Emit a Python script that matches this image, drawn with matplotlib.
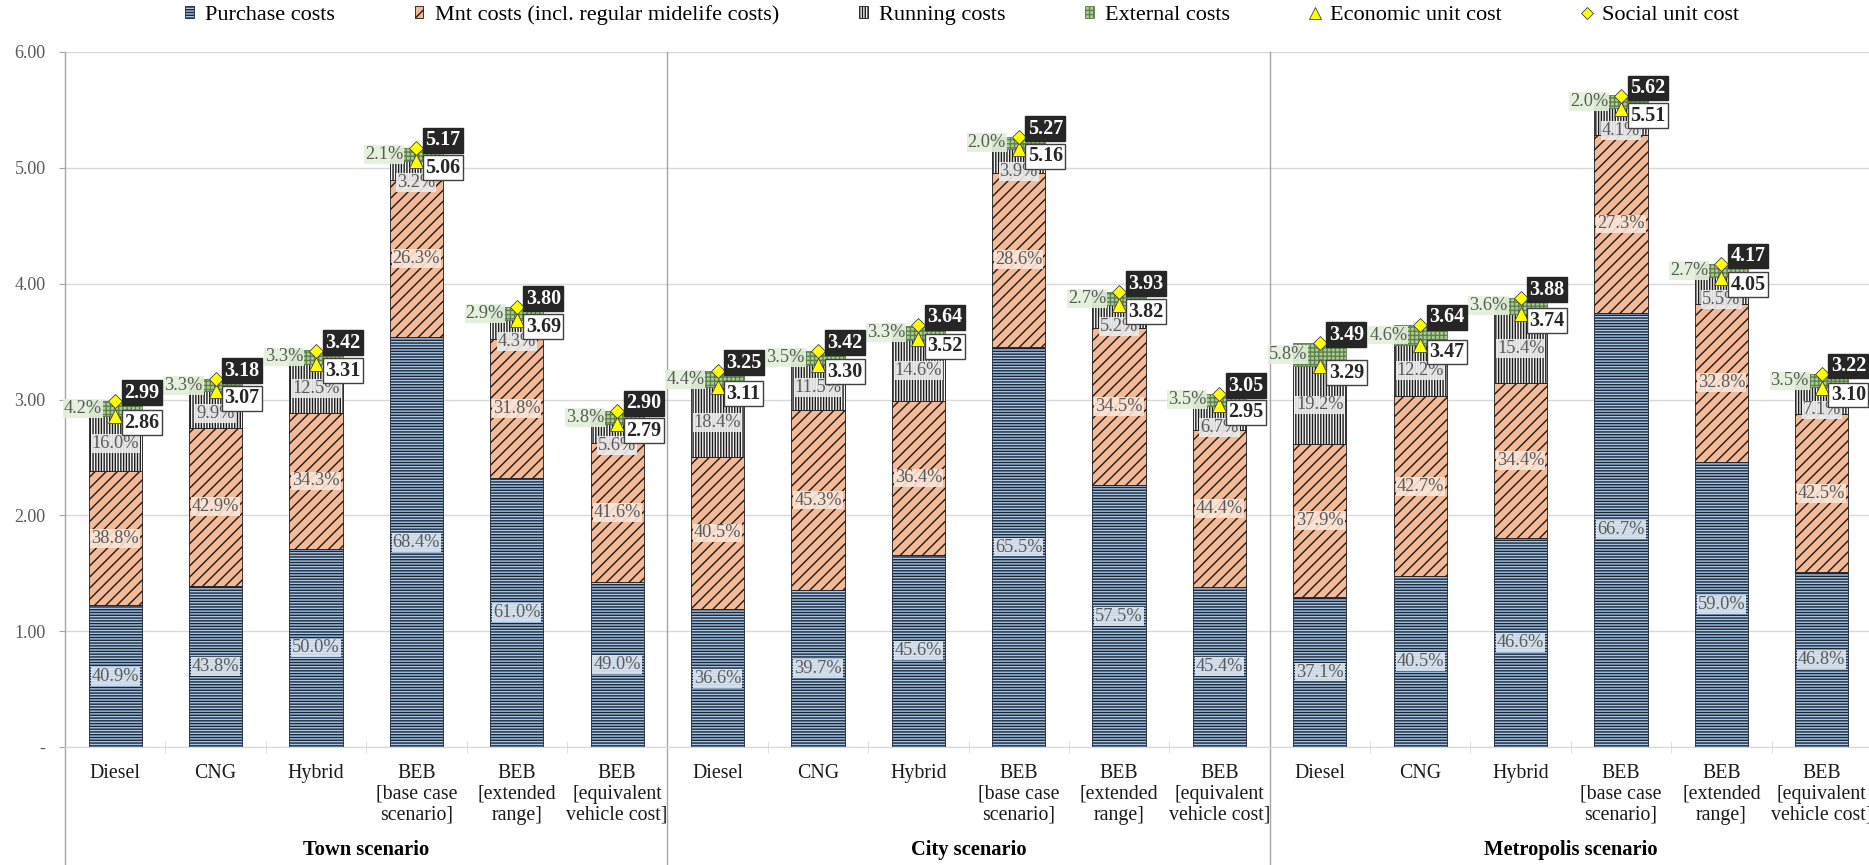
import numpy as np
import matplotlib.pyplot as plt
import matplotlib.transforms as mtransforms
from matplotlib.patches import Patch
from matplotlib.lines import Line2D

plt.rcParams['font.family'] = ['Liberation Serif', 'DejaVu Serif']
plt.rcParams['hatch.linewidth'] = 1.0

scenarios = ['Town scenario', 'City scenario', 'Metropolis scenario']
vehicles = ['Diesel', 'CNG', 'Hybrid',
            'BEB\n[base case\nscenario]', 'BEB\n[extended\nrange]',
            'BEB\n[equivalent\nvehicle cost]']

# shares of the social unit cost in %, one row per scenario
purchase_pct = [[40.9, 43.8, 50.0, 68.4, 61.0, 49.0],
                [36.6, 39.7, 45.6, 65.5, 57.5, 45.4],
                [37.1, 40.5, 46.6, 66.7, 59.0, 46.8]]
mnt_pct = [[38.8, 42.9, 34.3, 26.3, 31.8, 41.6],
           [40.5, 45.3, 36.4, 28.6, 34.5, 44.4],
           [37.9, 42.7, 34.4, 27.3, 32.8, 42.5]]
running_pct = [[16.0, 9.9, 12.5, 3.2, 4.3, 5.6],
               [18.4, 11.5, 14.6, 3.9, 5.2, 6.7],
               [19.2, 12.2, 15.4, 4.1, 5.5, 7.1]]
external_pct = [[4.2, 3.3, 3.3, 2.1, 2.9, 3.8],
                [4.4, 3.5, 3.3, 2.0, 2.7, 3.5],
                [5.8, 4.6, 3.6, 2.0, 2.7, 3.5]]
economic_cost = [[2.86, 3.07, 3.31, 5.06, 3.69, 2.79],
                 [3.11, 3.30, 3.52, 5.16, 3.82, 2.95],
                 [3.29, 3.47, 3.74, 5.51, 4.05, 3.10]]
social_cost = [[2.99, 3.18, 3.42, 5.17, 3.80, 2.90],
               [3.25, 3.42, 3.64, 5.27, 3.93, 3.05],
               [3.49, 3.64, 3.88, 5.62, 4.17, 3.22]]

soc = np.array(social_cost).ravel()
eco = np.array(economic_cost).ravel()
shares = [np.array(p).ravel() for p in (purchase_pct, mnt_pct, running_pct, external_pct)]
heights = [s / 100 * soc for s in shares]
x = np.arange(len(soc))

names = ['Purchase costs', 'Mnt costs (incl. regular midelife costs)',
         'Running costs', 'External costs']
faces = ['#a6c6ea', '#f4b996', '#f4f4f4', '#a9d08e']
edges = ['#1c2633', '#1a1a1a', '#1a1a1a', '#5f7f50']
hatches = ['------', '///', '||||||', '++++']
label_bg = ['#dde8f4', '#fce6d8', '#ededed', '#e3f0da']
grey = '#595959'

fig = plt.figure(figsize=(18.69, 8.65), dpi=100)
ax = fig.add_axes([65 / 1869, 118 / 865, 1807 / 1869, 695 / 865])

bottom = np.zeros_like(soc)
for h, fc, ec, ht in zip(heights, faces, edges, hatches):
    ax.bar(x, h, 0.53, bottom=bottom, color=fc, edgecolor=ec, hatch=ht,
           linewidth=0.6, zorder=2)
    bottom = bottom + h

# percentage labels
base = np.zeros_like(soc)
for k, (h, s) in enumerate(zip(heights, shares)):
    mid = base + h / 2
    for i in range(len(x)):
        txt = f'{s[i]:.1f}%'
        box = dict(boxstyle='square,pad=0.05', fc=label_bg[k], ec='none', alpha=0.9)
        if k == 3:
            ax.annotate(txt, (x[i], mid[i]), xytext=(-13, 0), textcoords='offset pixels',
                        ha='right', va='center', fontsize=13.2, color=grey, bbox=box, zorder=4)
        else:
            y = mid[i] if k < 2 else min(mid[i], eco[i] - 0.19)
            ax.text(x[i], y, txt, ha='center', va='center', fontsize=13.2,
                    color=grey, bbox=box, zorder=4)
    base = base + h

ax.plot(x, eco, ls='none', marker='^', ms=10, mfc='#ffff00', mec='#404040', mew=0.6, zorder=6)
ax.plot(x, soc, ls='none', marker='D', ms=7.5, mfc='#ffff00', mec='#404040', mew=0.6, zorder=6)

for i in range(len(x)):
    ax.annotate(f'{soc[i]:.2f}', (x[i], soc[i]), xytext=(9, 8), textcoords='offset pixels',
                ha='left', va='center', fontsize=14.5, fontweight='bold', color='white',
                bbox=dict(boxstyle='square,pad=0.12', fc='#262626', ec='#262626'), zorder=8)
    ax.annotate(f'{eco[i]:.2f}', (x[i], eco[i]), xytext=(9, -7), textcoords='offset pixels',
                ha='left', va='center', fontsize=14.5, fontweight='bold', color='#262626',
                bbox=dict(boxstyle='square,pad=0.12', fc='white', ec='#404040', lw=1), zorder=7)

ax.set_xlim(-0.5, len(x) - 0.5)
ax.set_ylim(0, 6)
ax.set_yticks(range(7))
ax.set_yticklabels(['-'] + [f'{v:.2f}' for v in range(1, 7)])
ax.tick_params(axis='y', length=4, color='#a6a6a6', labelcolor=grey, labelsize=13, pad=10)
ax.set_xticks(x)
ax.set_xticklabels(vehicles * 3, fontsize=14.3, linespacing=1.15, color='#1a1a1a')
ax.tick_params(axis='x', length=0, pad=12)
ax.set_xticks(np.arange(-0.5, len(x), 1), minor=True)
ax.tick_params(axis='x', which='minor', length=8, direction='inout', color='#d9d9d9')
ax.yaxis.grid(True, color='#d9d9d9', lw=1)
ax.set_axisbelow(True)
for side in ('top', 'right', 'left'):
    ax.spines[side].set_visible(False)
ax.spines['bottom'].set_color('#d9d9d9')

# group dividers running down to the bottom of the figure
trans = mtransforms.blended_transform_factory(ax.transData, fig.transFigure)
for xd in (-0.5, 5.5, 11.5):
    ax.add_line(Line2D([xd, xd], [0, 813 / 865], transform=trans, color='#a6a6a6',
                       lw=1, clip_on=False))
for g, name in enumerate(scenarios):
    ax.text(g * 6 + 2.5, 0.017, name, transform=trans, ha='center', va='center',
            fontsize=14.8, fontweight='bold')

handles = [Patch(facecolor=fc, edgecolor=ec, hatch=ht, linewidth=0.6)
           for fc, ec, ht in zip(faces, edges, hatches)]
handles += [Line2D([], [], ls='none', marker='^', ms=8, mfc='#ffff00', mec='#404040', mew=0.6),
            Line2D([], [], ls='none', marker='D', ms=6, mfc='#ffff00', mec='#404040', mew=0.6)]
fig.legend(handles, names + ['Economic unit cost', 'Social unit cost'],
           loc='upper center', bbox_to_anchor=(0.5147, 1.017), ncol=6, frameon=False,
           fontsize=16, handlelength=0.4, handleheight=0.45, handletextpad=0.5,
           columnspacing=3.6)

fig.savefig('out.png', dpi=100)
